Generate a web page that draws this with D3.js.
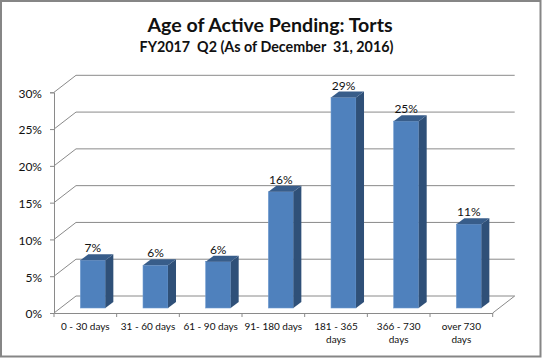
<!DOCTYPE html>
<html><head><meta charset="utf-8">
<script src="https://cdn.jsdelivr.net/npm/d3@7"></script>
<style>html,body{margin:0;padding:0;background:#fff}svg{display:block}text{font-family:Lato,"Open Sans",sans-serif;fill:#111}</style>
</head><body><svg id="c" width="542" height="358"></svg>
<script>
const categories=["0 - 30 days","31 - 60 days","61 - 90 days","91- 180 days","181 - 365 days","366 - 730 days","over 730 days"];
const categoryLines=[["0 - 30 days"],["31 - 60 days"],["61 - 90 days"],["91- 180 days"],["181 - 365","days"],["366 - 730","days"],["over 730","days"]];
const values=[6.5,5.8,6.3,15.8,28.6,25.4,11.4];
const valueLabels=["7%","6%","6%","16%","29%","25%","11%"];
const yTicks=[0,5,10,15,20,25,30];
const titleText="Age of Active Pending: Torts";
const subtitleText="FY2017  Q2 (As of December  31, 2016)";

const svg=d3.select("#c");
const W=542,H=358;
svg.append("rect").attr("x",1).attr("y",1).attr("width",W-2.5).attr("height",H-2.5).attr("fill","#fff").attr("stroke","#868686").attr("stroke-width",2);

const x=d3.scaleBand().domain(categories).range([54,492.7]);
const y=d3.scaleLinear().domain([0,30]).range([313,92.3]);
const wallDx=22,wallDy=-17;
const barShiftX=7.5,barShiftY=-5,barW=25,depthX=8,depthY=-6;
const gridCol="#8a8a8a";

const grid=svg.append("g").attr("fill","none").attr("stroke",gridCol).attr("stroke-width",1);
yTicks.forEach(t=>{
  const yy=y(t);
  grid.append("path").attr("d",d3.line()([[54,yy],[54+wallDx,yy+wallDy],[492.7+wallDx,yy+wallDy]]));
});
grid.append("path").attr("d",d3.line()([[492.7,y(0)],[492.7+wallDx,y(0)+wallDy]]));

const yAxis=d3.axisLeft(y).tickValues(yTicks).tickFormat(d=>d+"%").tickSize(4).tickPadding(8);
const gy=svg.append("g").attr("transform","translate(54,0)").call(yAxis);
gy.selectAll("path,line").attr("stroke",gridCol);
gy.selectAll("text").attr("font-size",12).attr("fill","#222").attr("dy","0.4em");

const xAxis=d3.axisBottom(x).tickSize(0).tickFormat("");
const gx=svg.append("g").attr("transform",`translate(0,${y(0)})`).call(xAxis);
gx.select("path").attr("stroke",gridCol);
gx.selectAll(".edge").data(d3.range(categories.length+1)).enter().append("line").attr("class","edge")
  .attr("x1",i=>x.range()[0]+i*x.step()).attr("x2",i=>x.range()[0]+i*x.step()).attr("y1",0).attr("y2",4).attr("stroke",gridCol);

const bars=svg.append("g").selectAll("g").data(categories).enter().append("g");
const L=d=>x(d)+x.bandwidth()/2+barShiftX-barW/2;
const base=y(0)+barShiftY;
const vy=i=>y(values[i])+barShiftY;
bars.append("rect").attr("x",d=>L(d)).attr("y",(d,i)=>vy(i)).attr("width",barW).attr("height",(d,i)=>base-vy(i))
  .attr("fill","#4f81bd").attr("stroke","#6f9bd0").attr("stroke-width",.6);
bars.append("path").attr("fill","#2f5078").attr("d",(d,i)=>{const r=L(d)+barW,t=vy(i);
  return d3.line()([[r,t],[r+depthX,t+depthY],[r+depthX,base+depthY],[r,base]])+"Z";});
bars.append("path").attr("fill","#385d8a").attr("d",(d,i)=>{const l=L(d),t=vy(i);
  return d3.line()([[l,t],[l+depthX,t+depthY],[l+barW+depthX,t+depthY],[l+barW,t]])+"Z";});
bars.append("text").attr("x",d=>L(d)+barW/2).attr("y",(d,i)=>vy(i)+depthY-2).attr("text-anchor","middle")
  .attr("font-size",12).text((d,i)=>valueLabels[i]);

const cl=svg.append("g").selectAll("text").data(categories).enter().append("text")
  .attr("text-anchor","middle").attr("font-size",10).attr("fill","#222");
cl.each(function(d,i){
  d3.select(this).selectAll("tspan").data(categoryLines[i]).enter().append("tspan")
    .attr("x",x(d)+x.bandwidth()/2).attr("y",(s,j)=>330+j*13).text(s=>s);
});

svg.append("text").attr("x",270).attr("y",32).attr("text-anchor","middle").attr("font-size",19.6).attr("font-weight",700).text(titleText);
svg.append("text").attr("x",266.5).attr("y",52).attr("text-anchor","middle").attr("font-size",14.3).attr("font-weight",700).style("white-space","pre").text(subtitleText);
</script></body></html>
